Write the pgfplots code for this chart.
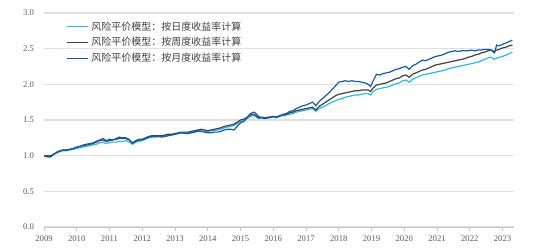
\documentclass[border=0pt]{standalone}
\usepackage{pgfplots}
\pgfplotsset{compat=1.18}
\usepackage{pgfplotstable}
\usepackage{fontspec}
\setmainfont{Liberation Serif}
\newfontfamily\cjk{Noto Sans CJK SC}
\definecolor{cday}{RGB}{46,184,230}
\definecolor{cweek}{RGB}{64,64,64}
\definecolor{cmonth}{RGB}{22,90,170}
\definecolor{tickc}{RGB}{89,89,89}
\pgfplotstableread{
x d w m
2009.00 1.00 1.00 1.00
2009.05 0.99 1.00 0.99
2009.12 0.99 1.00 0.98
2009.20 0.99 1.00 0.98
2009.30 1.02 1.02 1.02
2009.40 1.04 1.05 1.05
2009.50 1.06 1.07 1.07
2009.60 1.07 1.08 1.08
2009.70 1.07 1.08 1.08
2009.80 1.08 1.09 1.09
2009.90 1.09 1.10 1.10
2010.00 1.10 1.12 1.12
2010.10 1.11 1.13 1.13
2010.20 1.12 1.14 1.15
2010.30 1.13 1.15 1.16
2010.40 1.14 1.16 1.17
2010.50 1.15 1.17 1.18
2010.60 1.16 1.19 1.20
2010.70 1.18 1.21 1.22
2010.80 1.19 1.22 1.24
2010.90 1.17 1.20 1.21
2011.00 1.18 1.21 1.23
2011.10 1.19 1.22 1.22
2011.20 1.19 1.23 1.24
2011.30 1.20 1.24 1.26
2011.40 1.20 1.24 1.25
2011.50 1.21 1.24 1.25
2011.60 1.19 1.22 1.23
2011.70 1.16 1.18 1.17
2011.80 1.19 1.21 1.20
2011.90 1.20 1.23 1.22
2012.00 1.21 1.23 1.22
2012.10 1.23 1.25 1.24
2012.20 1.25 1.27 1.26
2012.30 1.26 1.28 1.27
2012.40 1.26 1.28 1.27
2012.50 1.27 1.28 1.27
2012.60 1.27 1.28 1.26
2012.70 1.28 1.29 1.27
2012.80 1.29 1.30 1.28
2012.90 1.29 1.30 1.29
2013.00 1.30 1.31 1.30
2013.10 1.31 1.32 1.31
2013.20 1.32 1.33 1.32
2013.30 1.32 1.33 1.31
2013.40 1.32 1.33 1.31
2013.50 1.33 1.34 1.32
2013.60 1.34 1.35 1.33
2013.70 1.35 1.36 1.34
2013.80 1.35 1.37 1.34
2013.90 1.34 1.36 1.33
2014.00 1.34 1.35 1.32
2014.10 1.35 1.36 1.32
2014.20 1.35 1.37 1.33
2014.30 1.36 1.38 1.33
2014.40 1.37 1.39 1.34
2014.50 1.39 1.41 1.36
2014.60 1.40 1.42 1.37
2014.70 1.41 1.43 1.37
2014.80 1.42 1.44 1.36
2014.90 1.45 1.47 1.41
2015.00 1.48 1.50 1.46
2015.10 1.49 1.51 1.48
2015.20 1.52 1.54 1.53
2015.30 1.55 1.57 1.59
2015.40 1.56 1.58 1.61
2015.45 1.55 1.57 1.60
2015.55 1.52 1.53 1.55
2015.65 1.53 1.54 1.53
2015.75 1.52 1.53 1.52
2015.85 1.53 1.54 1.53
2016.00 1.54 1.55 1.55
2016.10 1.53 1.54 1.54
2016.20 1.55 1.56 1.56
2016.30 1.56 1.57 1.58
2016.40 1.57 1.58 1.59
2016.50 1.58 1.60 1.62
2016.60 1.59 1.61 1.63
2016.70 1.61 1.63 1.66
2016.80 1.62 1.64 1.68
2016.90 1.63 1.65 1.70
2017.00 1.64 1.66 1.71
2017.10 1.65 1.67 1.73
2017.20 1.66 1.68 1.75
2017.30 1.62 1.64 1.70
2017.40 1.66 1.69 1.76
2017.50 1.68 1.72 1.80
2017.60 1.70 1.75 1.84
2017.70 1.73 1.78 1.88
2017.80 1.75 1.81 1.93
2017.90 1.77 1.84 1.98
2018.00 1.79 1.86 2.03
2018.10 1.80 1.87 2.04
2018.20 1.82 1.88 2.05
2018.30 1.83 1.89 2.04
2018.40 1.84 1.90 2.05
2018.50 1.85 1.91 2.04
2018.60 1.85 1.91 2.04
2018.70 1.86 1.92 2.03
2018.80 1.87 1.92 2.02
2018.90 1.87 1.92 2.00
2018.97 1.85 1.90 1.97
2019.05 1.90 1.95 2.05
2019.15 1.93 1.99 2.14
2019.25 1.94 2.00 2.13
2019.35 1.95 2.01 2.15
2019.45 1.96 2.02 2.16
2019.55 1.97 2.04 2.17
2019.65 1.99 2.06 2.19
2019.75 2.01 2.08 2.21
2019.85 2.02 2.09 2.22
2019.95 2.05 2.12 2.24
2020.05 2.06 2.13 2.25
2020.15 2.03 2.10 2.21
2020.25 2.07 2.14 2.26
2020.35 2.09 2.16 2.28
2020.45 2.11 2.18 2.31
2020.55 2.13 2.20 2.34
2020.65 2.14 2.21 2.33
2020.75 2.15 2.23 2.35
2020.85 2.16 2.25 2.37
2020.95 2.17 2.27 2.39
2021.05 2.18 2.28 2.40
2021.15 2.19 2.29 2.41
2021.25 2.20 2.30 2.43
2021.35 2.22 2.31 2.45
2021.45 2.23 2.32 2.46
2021.55 2.24 2.33 2.47
2021.65 2.25 2.34 2.46
2021.75 2.26 2.35 2.47
2021.85 2.27 2.36 2.47
2021.95 2.28 2.38 2.47
2022.05 2.29 2.39 2.48
2022.15 2.30 2.41 2.47
2022.25 2.31 2.42 2.48
2022.35 2.33 2.44 2.48
2022.45 2.35 2.45 2.49
2022.55 2.37 2.47 2.49
2022.65 2.38 2.48 2.48
2022.75 2.35 2.46 2.44
2022.82 2.37 2.48 2.55
2022.90 2.38 2.49 2.54
2023.00 2.39 2.51 2.56
2023.10 2.41 2.52 2.58
2023.20 2.43 2.54 2.60
2023.30 2.45 2.55 2.62
}\datatable
\begin{document}
\begin{tikzpicture}
\begin{axis}[
  scale only axis,
  width=352.5pt, height=160.5pt,
  xmin=2009, xmax=2023.35,
  ymin=0, ymax=3,
  xtick={2009,2010,...,2023},
  ytick={0,0.5,...,3.0},
  x tick label style={/pgf/number format/1000 sep={}},
  y tick label style={/pgf/number format/fixed, /pgf/number format/fixed zerofill, /pgf/number format/precision=1, xshift=-4pt},
  /pgf/number format/assume math mode=true,
  tick label style={font=\fontsize{6.5}{7.5}\selectfont, text=tickc},
  axis x line*=bottom, axis y line*=left,
  x axis line style={draw=gray!45, line width=0.6pt},
  y axis line style={draw=none},
  xtick style={draw=gray!45, line width=0.5pt},
  xtick align=outside, major tick length=3pt,
  ytick style={draw=none},
  ymajorgrids, grid style={draw=gray!25, line width=0.8pt},
  legend style={draw=none, fill=none, at={(rel axis cs:0.038,0.986)}, anchor=north west,
    font=\cjk\fontsize{7.5}{9}\selectfont, text=black!75, row sep=0pt,
    /tikz/every even column/.append style={column sep=2pt}},
  legend cell align=left,
  legend image code/.code={\draw[#1, line width=0.9pt] (0pt,0pt) -- (16pt,0pt);},
  clip=false,
]
\addplot[cday, line width=0.9pt] table[x=x, y=d] {\datatable};
\addlegendentry{风险平价模型：按日度收益率计算}
\addplot[cweek, line width=0.9pt] table[x=x, y=w] {\datatable};
\addlegendentry{风险平价模型：按周度收益率计算}
\addplot[cmonth, line width=0.9pt] table[x=x, y=m] {\datatable};
\addlegendentry{风险平价模型：按月度收益率计算}
\end{axis}
\path (current axis.south west) ++(-33pt,-15.75pt) coordinate (bl);
\path (current axis.north east) ++(18pt,9.75pt) coordinate (tr);
\path[use as bounding box] (bl) rectangle (tr);
\end{tikzpicture}
\end{document}
